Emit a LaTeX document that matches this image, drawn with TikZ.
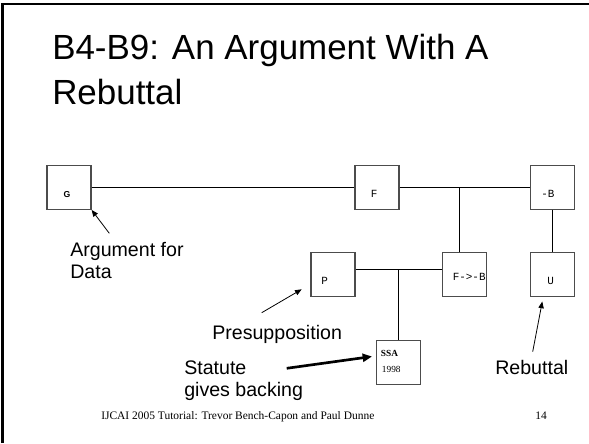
\documentclass[tikz,border=0pt]{standalone}
\usepackage{fontspec}
\usetikzlibrary{arrows.meta}
\newfontfamily\slidefont{Liberation Sans}
\newfontfamily\boxfont{Liberation Mono}
\newfontfamily\footfont{Liberation Serif}
\tikzset{
  argbox/.style={draw=black!70, line width=0.9pt, minimum size=33pt, inner sep=0pt},
  boxlabel/.style={anchor=base west, inner sep=0pt, font=\boxfont\fontsize{8.2}{9}\selectfont},
  smalllabel/.style={anchor=base west, inner sep=0pt, font=\footfont\fontsize{7}{8}\selectfont},
  notelabel/.style={anchor=base west, inner sep=0pt, font=\slidefont\fontsize{14.7}{17}\selectfont},
  titleline/.style={anchor=base west, inner sep=0pt, font=\slidefont\fontsize{26.2}{30}\selectfont},
  footlabel/.style={anchor=base west, inner sep=0pt, font=\footfont\fontsize{8.6}{10}\selectfont},
  link/.style={line width=0.75pt},
  pointer/.style={line width=0.6pt, -{Triangle[length=5pt,width=4pt]}},
}
\begin{document}
\begin{tikzpicture}[x=0.75pt,y=0.75pt,yscale=-1,xscale=1]
%set diagram left start at 0, and has height of 443
\path[use as bounding box, fill=white] (0,0) rectangle (589,443);

%Slide frame
\draw[line width=2pt] (2.7,443) -- (2.7,4) -- (589,4);

% Title
\node[titleline] (title1) at (52,59.3) {B4-B9: An Argument With A};
\node[titleline] (title2) at (52,104.3) {Rebuttal};

%Boxes
\node[argbox] (G) at (69,187.3) {};
\node[argbox] (F) at (377,187.3) {};
\node[argbox] (notB) at (552.7,187.3) {};
\node[argbox] (P) at (333,274.7) {};
\node[argbox] (FB) at (464.7,274.7) {};
\node[argbox] (U) at (552.7,274.7) {};
\node[argbox] (SSA) at (398.8,362.5) {};

% Box Text
\node[boxlabel, font=\slidefont\bfseries\fontsize{6.5}{7}\selectfont] (Gtext) at (63.3,197.3) {G};
\node[boxlabel] (Ftext) at (370.5,197.3) {F};
\node[boxlabel] (notBtext) at (541,197.3) {-B};
\node[boxlabel] (Ptext) at (321,284.3) {P};
\node[boxlabel] (Utext) at (547,284.3) {U};
\node[boxlabel] (FBtext) at (452.5,280) {F->-B};
\node[smalllabel, font=\footfont\bfseries\fontsize{7}{8}\selectfont] (SSAtext) at (380.7,356.7) {SSA};
\node[smalllabel] (yeartext) at (381.7,372.3) {1998};

%Straight Lines
\draw[link] (G) -- (F);
\draw[link] (F) -- (notB);
\draw[link] ([xshift=-4pt]FB.north) -- ([xshift=-4pt]FB.north |- F.east);
\draw[link] (notB) -- (U);
\draw[link] ([yshift=-4pt]P.east) -- ([yshift=-4pt]P.east -| FB.west);
\draw[link] (SSA.north) -- (SSA.north |- 0,269.3);

% Text Node
\node[notelabel] (argline1) at (70,256) {Argument for};
\node[notelabel] (argline2) at (70,278) {Data};
\node[notelabel] (presup) at (212,339.3) {Presupposition};
\node[notelabel] (statline1) at (184,374) {Statute};
\node[notelabel] (statline2) at (184,396) {gives backing};
\node[notelabel] (rebut) at (495,374) {Rebuttal};

%Arrows
\coordinate (argtail) at (109.3,233.3);
\coordinate (presuptail) at (261.7,312.7);
\coordinate (presuphead) at (301.7,289.3);
\coordinate (stattail) at (286.7,368.3);
\coordinate (stathead) at (372,356.5);
\coordinate (rebuttail) at (532.7,351.7);
\coordinate (rebuthead) at (542.3,301.5);
\draw[pointer] (argtail) -- (G.south east);
\draw[pointer] (presuptail) -- (presuphead);
\draw[line width=2pt, -{Triangle[length=7pt,width=6pt]}] (stattail) -- (stathead);
\draw[pointer] (rebuttail) -- (rebuthead);

% Footer
\node[footlabel] (footer) at (101,419.3) {IJCAI 2005 Tutorial: Trevor Bench-Capon and Paul Dunne};
\node[footlabel] (pagenum) at (535,419.3) {14};

\end{tikzpicture}
\end{document}
